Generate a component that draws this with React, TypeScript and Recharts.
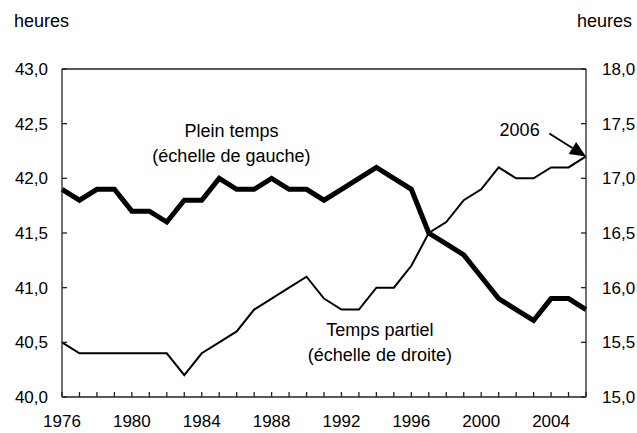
import React from "react";
import { Line, LineChart, ReferenceDot, ReferenceLine, XAxis, YAxis } from "recharts";

const years = [
  1976, 1977, 1978, 1979, 1980, 1981, 1982, 1983, 1984, 1985, 1986, 1987, 1988, 1989, 1990, 1991,
  1992, 1993, 1994, 1995, 1996, 1997, 1998, 1999, 2000, 2001, 2002, 2003, 2004, 2005, 2006,
];
// heures, plein temps (échelle de gauche)
const pleinTemps = [
  41.9, 41.8, 41.9, 41.9, 41.7, 41.7, 41.6, 41.8, 41.8, 42.0, 41.9, 41.9, 42.0, 41.9, 41.9, 41.8,
  41.9, 42.0, 42.1, 42.0, 41.9, 41.5, 41.4, 41.3, 41.1, 40.9, 40.8, 40.7, 40.9, 40.9, 40.8,
];
// heures, temps partiel (échelle de droite)
const tempsPartiel = [
  15.5, 15.4, 15.4, 15.4, 15.4, 15.4, 15.4, 15.2, 15.4, 15.5, 15.6, 15.8, 15.9, 16.0, 16.1, 15.9,
  15.8, 15.8, 16.0, 16.0, 16.2, 16.5, 16.6, 16.8, 16.9, 17.1, 17.0, 17.0, 17.1, 17.1, 17.2,
];
const leftTicks = [40, 40.5, 41, 41.5, 42, 42.5, 43];
const rightTicks = [15, 15.5, 16, 16.5, 17, 17.5, 18];
const labelYears = [1976, 1980, 1984, 1988, 1992, 1996, 2000, 2004];

const data = years.map((y, i) => ({ year: y, plein: pleinTemps[i], partiel: tempsPartiel[i] }));

if (typeof document !== "undefined") document.body.style.margin = "0";

const FONT = "'Liberation Sans', Arial, sans-serif";
const AXIS = "#222";
const fmt = (v: number) => v.toFixed(1).replace(".", ",");
const tickStyle = { fill: "#000", fontSize: 17, fontFamily: FONT };

function Arrow(props: any) {
  const { x1, y1, x2, y2 } = props;
  const dx = x2 - x1;
  const dy = y2 - y1;
  const len = Math.sqrt(dx * dx + dy * dy) || 1;
  const ux = dx / len;
  const uy = dy / len;
  const head = 16;
  const half = 7;
  const bx = x2 - ux * head;
  const by = y2 - uy * head;
  const pts = `${x2},${y2} ${bx - uy * half},${by + ux * half} ${bx + uy * half},${by - ux * half}`;
  return (
    <g>
      <line x1={x1} y1={y1} x2={bx} y2={by} stroke="#000" strokeWidth={2} />
      <polygon points={pts} fill="#000" />
    </g>
  );
}

const note = (value: string) => ({ value, position: "center" as const, fill: "#000", fontSize: 18, fontFamily: FONT });

export default function App() {
  return (
    <div style={{ position: "relative", width: 637, height: 433, fontFamily: FONT, background: "#fff" }}>
      <div style={{ position: "absolute", left: 14, top: 11, fontSize: 18, lineHeight: "20px" }}>heures</div>
      <div style={{ position: "absolute", left: 577, top: 11, fontSize: 18, lineHeight: "20px" }}>heures</div>
      <LineChart width={637} height={433} data={data} margin={{ top: 69, right: 0, bottom: 0, left: 0 }}>
        <XAxis
          dataKey="year"
          type="number"
          domain={[1976, 2006]}
          ticks={years}
          interval={0}
          tickFormatter={(v: number) => (labelYears.includes(v) ? String(v) : "")}
          tickSize={-5}
          tickMargin={23}
          height={36}
          stroke={AXIS}
          strokeWidth={1.3}
          tick={tickStyle}
        />
        <YAxis
          yAxisId="left"
          domain={[40, 43]}
          ticks={leftTicks}
          tickFormatter={fmt}
          tickSize={-5}
          tickMargin={19}
          width={62}
          stroke={AXIS}
          strokeWidth={1.3}
          tick={tickStyle}
        />
        <YAxis
          yAxisId="right"
          orientation="right"
          domain={[15, 18]}
          ticks={rightTicks}
          tickFormatter={fmt}
          tickSize={-5}
          tickMargin={21}
          width={51}
          stroke={AXIS}
          strokeWidth={1.3}
          tick={{ ...tickStyle, textAnchor: "start" }}
        />
        <ReferenceLine yAxisId="left" y={43} stroke={AXIS} strokeWidth={1.3} />
        <Line
          yAxisId="left"
          type="linear"
          dataKey="plein"
          stroke="#000"
          strokeWidth={5}
          dot={false}
          isAnimationActive={false}
        />
        <Line
          yAxisId="right"
          type="linear"
          dataKey="partiel"
          stroke="#000"
          strokeWidth={2}
          dot={false}
          isAnimationActive={false}
        />
        <ReferenceDot yAxisId="left" x={1985.7} y={42.44} r={0} fill="none" stroke="none" label={note("Plein temps")} />
        <ReferenceDot yAxisId="left" x={1985.7} y={42.21} r={0} fill="none" stroke="none" label={note("(échelle de gauche)")} />
        <ReferenceDot yAxisId="right" x={1994.2} y={15.62} r={0} fill="none" stroke="none" label={note("Temps partiel")} />
        <ReferenceDot yAxisId="right" x={1994.2} y={15.39} r={0} fill="none" stroke="none" label={note("(échelle de droite)")} />
        <ReferenceDot yAxisId="right" x={2002.2} y={17.45} r={0} fill="none" stroke="none" label={note("2006")} />
        <ReferenceLine
          yAxisId="right"
          segment={[
            { x: 2003.9, y: 17.41 },
            { x: 2006, y: 17.2 },
          ]}
          shape={Arrow}
        />
      </LineChart>
    </div>
  );
}
